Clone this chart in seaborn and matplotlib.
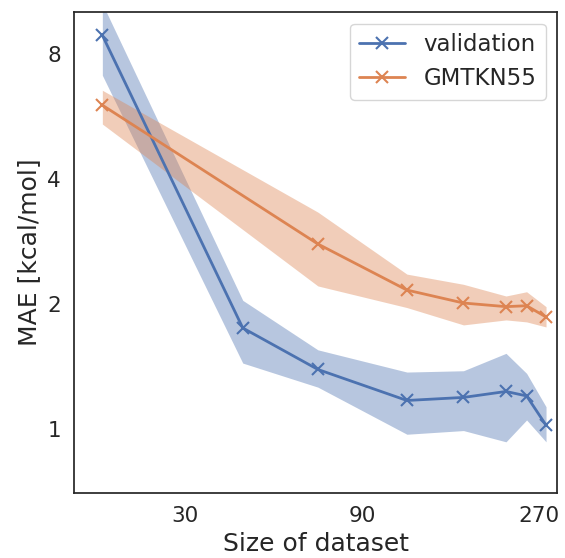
import matplotlib
matplotlib.use("Agg")
import matplotlib.pyplot as plt
import numpy as np
import pandas as pd
import seaborn as sns

# ── Data ────────────────────────────────────────────────────────────────────
val_size = [18, 43, 68.5, 119, 169, 220, 250, 282]
val_mae = [8.89, 1.75, 1.39, 1.17, 1.19, 1.23, 1.20, 1.02]
val_low = [7.12, 1.44, 1.26, 0.97, 0.99, 0.93, 1.05, 0.93]
val_high = [10.6, 2.04, 1.55, 1.37, 1.38, 1.52, 1.36, 1.13]

gmt_size = [18, 68.5, 119, 169, 220, 250, 282]
gmt_mae = [6.03, 2.79, 2.16, 2.01, 1.97, 1.98, 1.86]
gmt_low = [5.43, 2.21, 1.96, 1.78, 1.83, 1.81, 1.76]
gmt_high = [6.55, 3.33, 2.36, 2.23, 2.09, 2.14, 1.97]

x_ticks = [30, 90, 270]
y_ticks = [1, 2, 4, 8]

sns.set_theme(style="white", font_scale=1.3)
palette = sns.color_palette("deep")

fig, ax = plt.subplots(figsize=(5.65, 5.58), dpi=100)
fig.subplots_adjust(left=0.131, right=0.986, top=0.978, bottom=0.1165)

series = [
    ("validation", val_size, val_mae, val_low, val_high, palette[0]),
    ("GMTKN55", gmt_size, gmt_mae, gmt_low, gmt_high, palette[1]),
]
for name, xs, ys, lo, hi, col in series:
    sns.lineplot(x=xs, y=ys, color=col, marker="x", markersize=8,
                 markeredgewidth=1.5, markeredgecolor=col, linewidth=2,
                 label=name, ax=ax)
    ax.fill_between(xs, lo, hi, color=col, alpha=0.4, lw=0)

ax.set_xscale("log")
ax.set_yscale("log")
ax.set_xlim(15.1, 302)
ax.set_ylim(0.70, 10.1)
ax.set_xticks(x_ticks)
ax.set_xticklabels([str(t) for t in x_ticks])
ax.set_yticks(y_ticks)
ax.set_yticklabels([str(t) for t in y_ticks])
ax.minorticks_off()
ax.tick_params(labelsize=15.5)

ax.set_xlabel("Size of dataset", fontsize=18)
ax.set_ylabel("MAE [kcal/mol]", fontsize=18)
ax.legend(loc="upper right", fontsize=16.5)

for s in ax.spines.values():
    s.set_color("0.15")

plt.savefig("out.png", dpi=100)
plt.close()
